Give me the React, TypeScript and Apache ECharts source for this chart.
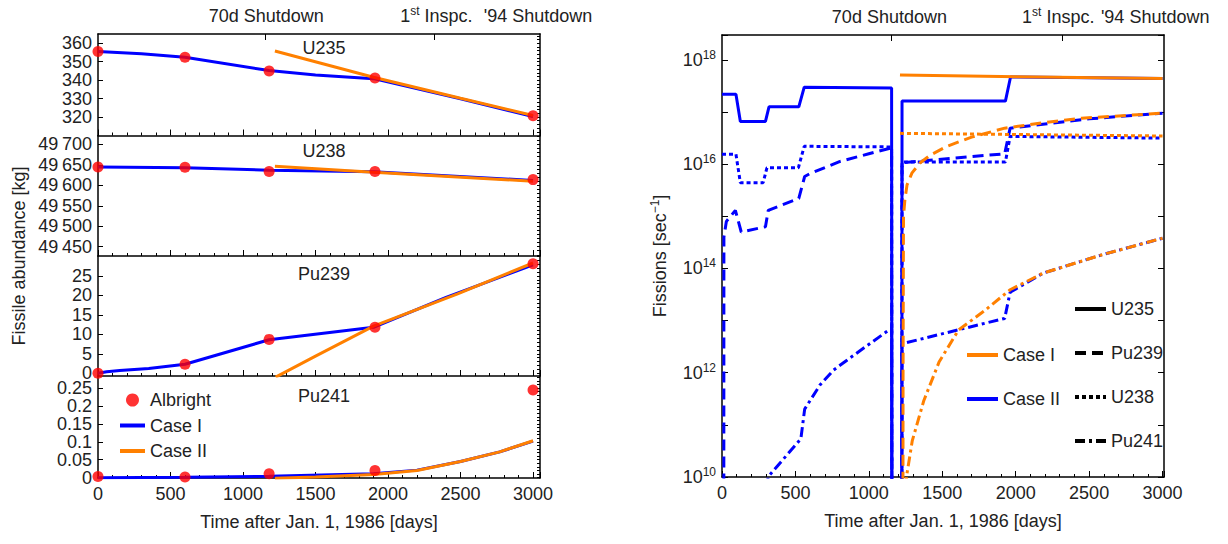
import React, { useEffect, useRef } from 'react';
import * as echarts from 'echarts';

const BLUE = '#0000ff';
const ORANGE = '#ff8000';
const RED = '#ff0000';
const TXT = '#222222';
const FONT = "'Liberation Sans', Arial, Helvetica, sans-serif";

// ---------- Left chart: fissile abundance ----------
const albrightDays = [0, 600, 1180, 1910, 3000];
const albrightU235 = [355.5, 352.4, 345.0, 341.1, 320.7];
const albrightU238 = [49645, 49644, 49634, 49634, 49614];
const albrightPu239 = [0, 2.3, 8.7, 11.8, 28.1];
const albrightPu241 = [0.003, 0.002, 0.011, 0.02, 0.245];

const leftU235IDays = [0, 300, 600, 1180, 1500, 1900, 2500, 3000];
const leftU235I = [355.5, 354.3, 352.4, 345.2, 342.8, 340.8, 329.9, 320.3];
const leftU235IIDays = [1220, 1900, 2500, 3000];
const leftU235II = [355.8, 341.6, 330.2, 320.8];

const leftU238IDays = [0, 600, 1180, 1900, 3000];
const leftU238I = [49645, 49643, 49637, 49633, 49612];
const leftU238IIDays = [1220, 1900, 3000];
const leftU238II = [49647, 49632, 49610];

const leftPu239IDays = [0, 60, 150, 350, 600, 1180, 1900, 2400, 3000];
const leftPu239I = [0, 0.4, 0.7, 1.2, 2.3, 8.6, 11.8, 19.5, 27.8];
const leftPu239IIDays = [1225, 1500, 1900, 2480, 3000];
const leftPu239II = [-1, 4.4, 12.1, 20.4, 28.3];

const leftPu241IDays = [0, 600, 1180, 1900, 2200, 2500, 2770, 3000];
const leftPu241I = [0, 0.001, 0.004, 0.011, 0.021, 0.045, 0.072, 0.102];
const leftPu241IIDays = [1220, 1500, 1900, 2200, 2500, 2770, 3000];
const leftPu241II = [-0.002, 0.002, 0.009, 0.02, 0.045, 0.072, 0.103];

const u235Ticks = [320, 330, 340, 350, 360];
const u238Ticks = [49450, 49500, 49550, 49600, 49650, 49700];
const pu239Ticks = [0, 5, 10, 15, 20, 25];
const pu241Ticks = [0, 0.05, 0.1, 0.15, 0.2, 0.25];
const xTickLabels = [0, 500, 1000, 1500, 2000, 2500, 3000];

// events on the top axis
const eventTickDays = [1155, 2320];
const eventLabels = ['70d Shutdown', '1{sup|st} Inspc.', "'94 Shutdown"];
const leftEventLabelDays = [1160, 2333, 3035];
const rightEventLabelDays = [1140, 2290, 2950];

// ---------- Right chart: fission rates ----------
// Case II (blue)
const u235IIDays = [0, 95, 125, 296, 320, 523, 560, 1155, 1158, 1224, 1226, 1930, 1965, 3000];
const u235IIRate = [2.2e17, 2.2e17, 6.6e16, 6.6e16, 1.26e17, 1.26e17, 3.0e17, 2.9e17, 1e5, 1e5, 1.62e17, 1.62e17, 4.7e17, 4.37e17];
const u238IIDays = [0, 95, 125, 280, 306, 520, 560, 1155, 1158, 1224, 1226, 1930, 1962, 3000];
const u238IIRate = [1.55e16, 1.55e16, 4.4e15, 4.4e15, 8.5e15, 8.5e15, 2.2e16, 2.14e16, 1e5, 1e5, 1.1e16, 1.1e16, 3.4e16, 3.16e16];
const pu239IIDays = [0, 12, 13, 30, 91, 131, 296, 315, 523, 563, 600, 800, 1000, 1155, 1158, 1224, 1226, 1925, 1962, 2200, 2500, 3000];
const pu239IIRate = [1e5, 1e5, 4.0e14, 8e14, 1.3e15, 5.0e14, 6.3e14, 1.3e15, 2.2e15, 5.8e15, 6.6e15, 1.12e16, 1.58e16, 2.05e16, 1e5, 1e5, 1.07e16, 1.58e16, 4.9e16, 5.9e16, 7.4e16, 9.5e16];
const pu241IIDays = [0, 300, 313, 537, 563, 667, 759, 851, 981, 1137, 1155, 1158, 1224, 1226, 1925, 1962, 2186, 2580, 3000];
const pu241IIRate = [1e5, 1e5, 1e10, 5.4e10, 2.0e11, 5.8e11, 1.12e12, 1.74e12, 3.2e12, 6.6e12, 7.0e12, 1e5, 1e5, 3.6e12, 1.1e13, 3.5e13, 8.1e13, 1.8e14, 3.8e14];
// Case I (orange)
const u235IDays = [1212, 3000];
const u235IRate = [5.1e17, 4.37e17];
const u238IDays = [1212, 3000];
const u238IRate = [3.9e16, 3.47e16];
const pu239IDays = [1231, 1233, 1236, 1245, 1260, 1294, 1348, 1420, 1532, 1700, 1925, 2200, 2448, 3000];
const pu239IRate = [1e5, 1e12, 1e15, 2.0e15, 4.0e15, 6.8e15, 1.05e16, 1.5e16, 2.2e16, 3.3e16, 4.9e16, 6.3e16, 7.6e16, 9.5e16];
const pu241IDays = [1250, 1256, 1296, 1374, 1478, 1611, 1792, 1962, 2186, 2580, 3000];
const pu241IRate = [1e9, 1e10, 5.0e10, 2.9e11, 1.6e12, 6.6e12, 1.58e13, 3.9e13, 8.1e13, 1.8e14, 3.8e14];

const DASH = {
  solid: 'solid' as any,
  dashed: [11, 6],
  dotted: [4, 3],
  dashdot: [10, 4, 3, 4],
};

const zip = (xs: number[], ys: number[]) => xs.map((x, i) => [x, ys[i]]);
const steps = (a: number, b: number, s: number) => {
  const out: number[] = [];
  for (let v = a; v <= b + 1e-9; v += s) out.push(Math.round(v * 1000) / 1000);
  return out;
};

const supRich = {
  sup: { fontSize: 12, lineHeight: 12, padding: [0, 0, 10, 0], fontFamily: FONT, color: TXT },
};

function buildOption() {
  const LEFT_X = 98;
  const W = 442;
  const panels = [
    { label: 'U235', labelY: 48, top: 34, height: 101.5, min: 310, max: 365, ticks: u235Ticks, fine: steps(312, 364, 2),
      bx: leftU235IDays, by: leftU235I, ox: leftU235IIDays, oy: leftU235II, dots: albrightU235, fmt: (v: number) => String(v) },
    { label: 'U238', labelY: 151, top: 135.5, height: 120.5, min: 49427, max: 49722, ticks: u238Ticks, fine: steps(49430, 49720, 10),
      bx: leftU238IDays, by: leftU238I, ox: leftU238IIDays, oy: leftU238II, dots: albrightU238,
      fmt: (v: number) => `${Math.floor(v / 1000)}\u2009${String(Math.round(v % 1000)).padStart(3, '0')}` },
    { label: 'Pu239', labelY: 274, top: 256, height: 120, min: -0.7, max: 30.1, ticks: pu239Ticks, fine: steps(0, 30, 1),
      bx: leftPu239IDays, by: leftPu239I, ox: leftPu239IIDays, oy: leftPu239II, dots: albrightPu239, fmt: (v: number) => String(v) },
    { label: 'Pu241', labelY: 396, top: 376, height: 102, min: -0.001, max: 0.284, ticks: pu241Ticks, fine: steps(0, 0.28, 0.01),
      bx: leftPu241IDays, by: leftPu241I, ox: leftPu241IIDays, oy: leftPu241II, dots: albrightPu241, fmt: (v: number) => String(v) },
  ];

  const axisLine = { show: true, onZero: false, lineStyle: { color: '#000', width: 1.5 } };
  const tickLine = { color: '#000', width: 1 };
  const fmtX = (v: number) => (xTickLabels.indexOf(v) >= 0 ? String(v) : '');
  const fmtEvent = (days: number[]) => (v: number) => {
    const i = days.findIndex((d) => Math.abs(d - v) < 0.5);
    return i >= 0 ? eventLabels[i] : '';
  };
  const xTitle = 'Time after Jan. 1, 1986 [days]';

  const grid: any[] = [];
  const xAxis: any[] = [];
  const yAxis: any[] = [];
  const series: any[] = [];
  const graphic: any[] = [];

  panels.forEach((p, i) => {
    grid.push({ left: LEFT_X, width: W, top: p.top, height: p.height, containLabel: false });
    xAxis.push({
      type: 'value', gridIndex: i, position: 'bottom', min: 0, max: 3048, interval: 500,
      axisLine, axisTick: { show: true, inside: true, length: 6, lineStyle: tickLine },
      minorTick: { show: true, splitNumber: 5, length: 3, lineStyle: tickLine },
      axisLabel: { show: i === 3, fontSize: 18, color: TXT, fontFamily: FONT, margin: 7, formatter: fmtX, hideOverlap: false },
      splitLine: { show: false }, minorSplitLine: { show: false },
      name: i === 3 ? xTitle : '', nameLocation: 'middle', nameGap: 35,
      nameTextStyle: { fontSize: 18, color: TXT, fontFamily: FONT },
    });
    if (i === 0) {
      xAxis.push({
        type: 'value', gridIndex: i, position: 'top', min: 0, max: 3048,
        axisLine, axisTick: { show: true, inside: true, length: 6, lineStyle: tickLine, customValues: eventTickDays },
        axisLabel: { show: true, fontSize: 18, lineHeight: 22, color: TXT, fontFamily: FONT, margin: 7, customValues: leftEventLabelDays,
          formatter: fmtEvent(leftEventLabelDays), rich: supRich, hideOverlap: false },
        splitLine: { show: false },
      });
    } else {
      xAxis.push({ type: 'value', gridIndex: i, position: 'top', min: 0, max: 3048, show: false });
    }
    yAxis.push({
      type: 'value', gridIndex: i, position: 'left', min: p.min, max: p.max,
      axisLine, axisTick: { show: true, inside: true, length: 5, lineStyle: tickLine, customValues: p.ticks },
      axisLabel: { fontSize: 18, lineHeight: 15, color: TXT, fontFamily: FONT, margin: 6, customValues: p.ticks, formatter: p.fmt, hideOverlap: false },
      splitLine: { show: false },
    });
    yAxis.push({
      type: 'value', gridIndex: i, position: 'right', min: p.min, max: p.max,
      axisLine, axisTick: { show: true, inside: true, length: 3, lineStyle: tickLine, customValues: p.fine },
      axisLabel: { show: false }, splitLine: { show: false },
    });
    series.push({
      name: 'Case I', type: 'line', xAxisIndex: 2 * i, yAxisIndex: 2 * i, data: zip(p.bx, p.by),
      symbol: 'none', lineStyle: { color: BLUE, width: 3 }, itemStyle: { color: BLUE }, clip: true, z: 2,
    });
    series.push({
      name: 'Case II', type: 'line', xAxisIndex: 2 * i, yAxisIndex: 2 * i, data: zip(p.ox, p.oy),
      symbol: 'none', lineStyle: { color: ORANGE, width: 3 }, itemStyle: { color: ORANGE }, clip: true, z: 3,
    });
    series.push({
      name: 'Albright', type: 'scatter', xAxisIndex: 2 * i, yAxisIndex: 2 * i, data: zip(albrightDays, p.dots),
      symbol: 'circle', symbolSize: 11, itemStyle: { color: RED }, clip: true, z: 4,
    });
    graphic.push({
      type: 'text', x: 324, y: p.labelY, z: 10,
      style: { text: p.label, fontSize: 18, fontFamily: FONT, fill: TXT, align: 'center', verticalAlign: 'middle' },
    });
  });

  // Right chart
  const RG = 4;
  grid.push({ left: 722, width: W, top: 35, height: 442, containLabel: false });
  xAxis.push({
    type: 'value', gridIndex: RG, position: 'bottom', min: 0, max: 3010, interval: 500,
    axisLine, axisTick: { show: true, inside: true, length: 6, lineStyle: tickLine },
    minorTick: { show: true, splitNumber: 5, length: 3, lineStyle: tickLine },
    axisLabel: { fontSize: 18, color: TXT, fontFamily: FONT, margin: 7, formatter: fmtX, hideOverlap: false },
    splitLine: { show: false }, minorSplitLine: { show: false },
    name: xTitle, nameLocation: 'middle', nameGap: 35,
    nameTextStyle: { fontSize: 18, color: TXT, fontFamily: FONT },
  });
  xAxis.push({
    type: 'value', gridIndex: RG, position: 'top', min: 0, max: 3010,
    axisLine, axisTick: { show: true, inside: true, length: 6, lineStyle: tickLine, customValues: eventTickDays },
    axisLabel: { show: true, fontSize: 18, lineHeight: 22, color: TXT, fontFamily: FONT, margin: 7, customValues: rightEventLabelDays,
      formatter: fmtEvent(rightEventLabelDays), rich: supRich, hideOverlap: false },
    splitLine: { show: false },
  });
  const fmtLog = (v: number) => {
    const e = Math.log10(v);
    const r = Math.round(e);
    if (Math.abs(e - r) > 1e-6 || r % 2 !== 0) return '';
    return `10{sup|${r}}`;
  };
  yAxis.push({
    type: 'log', logBase: 10, gridIndex: RG, position: 'left', min: 1e10, max: 3e18, interval: 1,
    axisLine, axisTick: { show: true, inside: true, length: 6, lineStyle: tickLine },
    axisLabel: { fontSize: 18, lineHeight: 22, color: TXT, fontFamily: FONT, margin: 6, formatter: fmtLog, rich: supRich, hideOverlap: false },
    splitLine: { show: false },
  });
  yAxis.push({
    type: 'log', logBase: 10, gridIndex: RG, position: 'right', min: 1e10, max: 3e18, interval: 1,
    axisLine, axisTick: { show: true, inside: true, length: 6, lineStyle: tickLine },
    axisLabel: { show: false }, splitLine: { show: false },
  });

  const rightLines = [
    { name: 'r-u235-II', x: u235IIDays, y: u235IIRate, color: BLUE, dash: DASH.solid },
    { name: 'r-u238-II', x: u238IIDays, y: u238IIRate, color: BLUE, dash: DASH.dotted },
    { name: 'r-pu239-II', x: pu239IIDays, y: pu239IIRate, color: BLUE, dash: DASH.dashed },
    { name: 'r-pu241-II', x: pu241IIDays, y: pu241IIRate, color: BLUE, dash: DASH.dashdot },
    { name: 'r-u235-I', x: u235IDays, y: u235IRate, color: ORANGE, dash: DASH.solid },
    { name: 'r-u238-I', x: u238IDays, y: u238IRate, color: ORANGE, dash: DASH.dotted },
    { name: 'r-pu239-I', x: pu239IDays, y: pu239IRate, color: ORANGE, dash: DASH.dashed },
    { name: 'r-pu241-I', x: pu241IDays, y: pu241IRate, color: ORANGE, dash: DASH.dashdot },
  ];
  rightLines.forEach((l, k) => {
    series.push({
      name: l.name, type: 'line', xAxisIndex: 8, yAxisIndex: 8, data: zip(l.x, l.y),
      symbol: 'none', lineStyle: { color: l.color, width: 3, type: l.dash }, itemStyle: { color: l.color },
      clip: true, z: 2 + k,
    });
  });
  // legend-only series
  const legendOnly = [
    { name: 'U235', color: '#000', dash: DASH.solid },
    { name: 'Pu239', color: '#000', dash: DASH.dashed },
    { name: 'U238', color: '#000', dash: DASH.dotted },
    { name: 'Pu241', color: '#000', dash: DASH.dashdot },
    { name: 'R:Case I', color: ORANGE, dash: DASH.solid },
    { name: 'R:Case II', color: BLUE, dash: DASH.solid },
  ];
  legendOnly.forEach((l) => {
    series.push({
      name: l.name, type: 'line', xAxisIndex: 8, yAxisIndex: 8, data: [],
      symbol: 'none', lineStyle: { color: l.color, width: 3, type: l.dash }, itemStyle: { color: l.color },
    });
  });

  graphic.push({
    type: 'text', x: 19, y: 256, rotation: Math.PI / 2,
    style: { text: 'Fissile abundance [kg]', fontSize: 18, fontFamily: FONT, fill: TXT, align: 'center', verticalAlign: 'middle' },
  });
  graphic.push({
    type: 'text', x: 660, y: 256, rotation: Math.PI / 2,
    style: {
      text: 'Fissions [sec{sup|\u22121}]', fontSize: 18, lineHeight: 22, fontFamily: FONT, fill: TXT,
      align: 'center', verticalAlign: 'middle',
      rich: { sup: { fontSize: 12, lineHeight: 12, padding: [0, 0, 10, 0], fontFamily: FONT, fill: TXT } },
    },
  });

  const legendText = { fontSize: 18, color: TXT, fontFamily: FONT };
  const noSym = (name: string) => ({ name, itemStyle: { opacity: 0 }, lineStyle: { width: 4 } });
  const legend = [
    { data: ['Albright', noSym('Case I'), noSym('Case II')], orient: 'vertical', left: 113, top: 386, itemWidth: 25, itemHeight: 13,
      itemGap: 7.5, textStyle: legendText, selectedMode: false },
    { data: [noSym('R:Case I'), noSym('R:Case II')], orient: 'vertical', left: 960, top: 341, itemWidth: 31, itemHeight: 14,
      itemGap: 26, textStyle: legendText, selectedMode: false, formatter: (n: string) => n.replace('R:', '') },
    { data: [noSym('U235'), noSym('Pu239'), noSym('U238'), noSym('Pu241')], orient: 'vertical', left: 1068, top: 295,
      itemWidth: 31, itemHeight: 14, itemGap: 26, textStyle: legendText, selectedMode: false },
  ];

  return {
    animation: false,
    textStyle: { fontFamily: FONT },
    grid, xAxis, yAxis, series, graphic, legend,
  };
}

export default function App() {
  const ref = useRef<HTMLDivElement>(null);
  useEffect(() => {
    document.body.style.margin = '0';
    const chart = echarts.init(ref.current as HTMLDivElement, null, { renderer: 'svg' });
    chart.setOption(buildOption() as any);
    return () => chart.dispose();
  }, []);
  return <div ref={ref} style={{ width: 1228, height: 544, background: '#fff' }} />;
}
